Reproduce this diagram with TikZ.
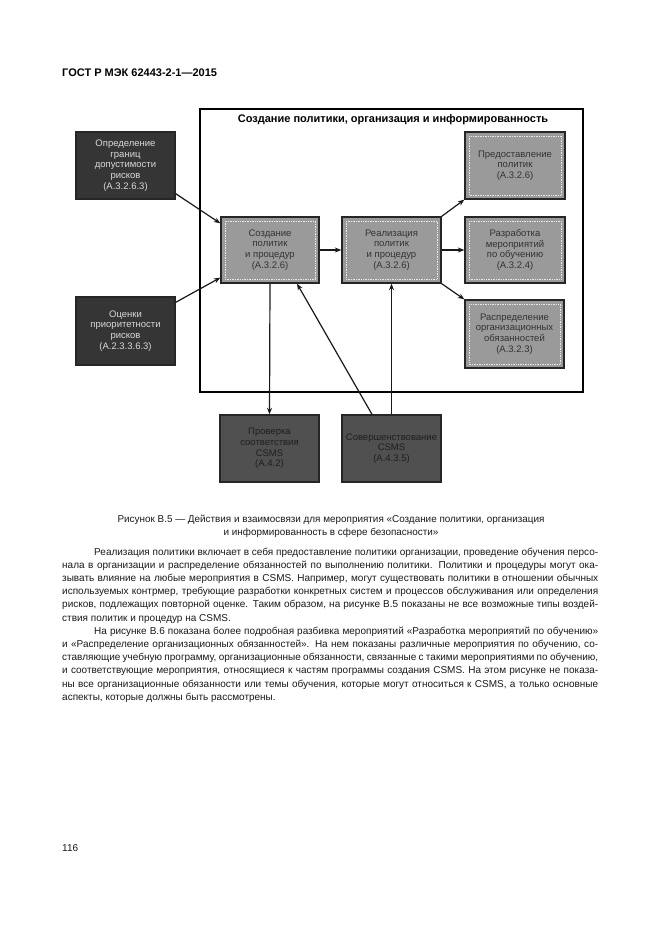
\documentclass[tikz,border=0pt]{standalone}
\usepackage{fontspec}
\setmainfont{Liberation Sans}
\usetikzlibrary{arrows.meta,calc}
\definecolor{darkbox}{HTML}{353535}
\definecolor{graybox}{HTML}{9A9A9A}
\definecolor{botbox}{HTML}{505050}
\definecolor{bodytext}{HTML}{1A1A1A}
\tikzset{
  boxbase/.style={draw=black!85, line width=1.3pt, minimum width=99pt, minimum height=67pt, align=center, inner sep=2pt, font=\fontsize{9.5}{10.7}\selectfont},
  darkstyle/.style={boxbase, fill=darkbox, text=white!85!black},
  graystyle/.style={boxbase, fill=graybox, text=black!80,
     path picture={\draw[white, line width=0.7pt, densely dotted, opacity=0.8]
       ([shift={(4pt,-4pt)}]path picture bounding box.north west) rectangle ([shift={(-4pt,4pt)}]path picture bounding box.south east);}},
  botstyle/.style={boxbase, fill=botbox, text=black!88},
  conn/.style={line width=1.2pt, black!90, -{Stealth[length=6.5pt,width=5pt]}},
  bodyline/.style={anchor=base west, inner sep=0pt, font=\fontsize{10}{12}\selectfont, text=bodytext},
  capline/.style={anchor=base, inner sep=0pt, font=\fontsize{9.9}{12}\selectfont, text=bodytext}
}
\begin{document}
\begin{tikzpicture}[x=1pt,y=-1pt]
\useasboundingbox (0,0) rectangle (661,935);
\fill[white] (0,0) rectangle (661,935);

% header
\node[anchor=base west, inner sep=0pt, font=\bfseries\fontsize{11}{13}\selectfont] (hdr) at (62,76) {ГОСТ Р МЭК 62443-2-1—2015};

% frame
\node[draw=black, line width=1.8pt, minimum width=383pt, minimum height=283pt, inner sep=0pt, anchor=north west] (frame) at (199,108) {};
\node[font=\bfseries\fontsize{11}{13}\selectfont, inner sep=0pt] (title) at (393,120) {Создание политики, организация и информированность};

% boxes
\node[darkstyle] (opr) at (125.5,165.5) {Определение\\границ\\допустимости\\рисков\\(A.3.2.6.3)};
\node[darkstyle, minimum height=68pt] (ocen) at (125.5,331) {Оценки\\приоритетности\\рисков\\(A.2.3.3.6.3)};
\node[graystyle, minimum width=98pt, minimum height=66pt] (sozd) at (270,250) {Создание\\политик\\и процедур\\(A.3.2.6)};
\node[graystyle, minimum height=66pt] (real) at (391.5,250) {Реализация\\политик\\и процедур\\(A.3.2.6)};
\node[graystyle, minimum width=100pt] (pred) at (515,165.5) {Предоставление\\политик\\(A.3.2.6)};
\node[graystyle, minimum width=100pt, minimum height=66pt] (razr) at (515,250) {Разработка\\мероприятий\\по обучению\\(A.3.2.4)};
\node[graystyle, minimum height=68pt] (rasp) at (514.5,334) {Распределение\\организационных\\обязанностей\\(A.3.2.3)};
\node[botstyle] (prov) at (269.5,448.5) {Проверка\\соответствия\\CSMS\\(A.4.2)};
\node[botstyle] (sover) at (391.5,448.5) {Совершенствование\\CSMS\\(A.4.3.5)};

% connectors
\draw[conn] ([yshift=6pt]opr.south east) -- ([yshift=-7pt]sozd.north west);
\draw[conn] ([yshift=-6pt]ocen.north east) -- ([yshift=6pt]sozd.south west);
\draw[conn] (sozd.east) -- (real.west);
\draw[conn] (real.east) -- (razr.west);
\draw[conn] (real.north east) -- (pred.south west);
\draw[conn] (real.south east) -- (rasp.north west);
\draw[conn] (sozd.south) -- (prov.north);
\draw[conn] ([xshift=-19.5pt]sover.north) -- ([xshift=27pt]sozd.south);
\draw[conn] (sover.north) -- (real.south);

% caption
\node[capline] (cap1) at (331,522) {Рисунок В.5 — Действия и взаимосвязи для мероприятия «Создание политики, организация};
\node[capline] (cap2) at (331,535) {и информированность в сфере безопасности»};

% body text
\node[bodyline] (l1) at (94,555) {\makebox[504pt][s]{Реализация политики включает в себя предоставление политики организации, проведение обучения персо-}};
\node[bodyline] (l2) at (62,568.2) {\makebox[536pt][s]{нала в организации и распределение обязанностей по выполнению политики. Политики и процедуры могут ока-}};
\node[bodyline] (l3) at (62,581.4) {\makebox[536pt][s]{зывать влияние на любые мероприятия в CSMS. Например, могут существовать политики в отношении обычных}};
\node[bodyline] (l4) at (62,594.6) {\makebox[536pt][s]{используемых контрмер, требующие разработки конкретных систем и процессов обслуживания или определения}};
\node[bodyline] (l5) at (62,607.8) {\makebox[536pt][s]{рисков, подлежащих повторной оценке. Таким образом, на рисунке В.5 показаны не все возможные типы воздей-}};
\node[bodyline] (l6) at (62,621) {ствия политик и процедур на CSMS.};
\node[bodyline] (l7) at (94,634.2) {\makebox[504pt][s]{На рисунке В.6 показана более подробная разбивка мероприятий «Разработка мероприятий по обучению»}};
\node[bodyline] (l8) at (62,647.4) {\makebox[536pt][s]{и «Распределение организационных обязанностей». На нем показаны различные мероприятия по обучению, со-}};
\node[bodyline] (l9) at (62,660.6) {\makebox[536pt][s]{ставляющие учебную программу, организационные обязанности, связанные с такими мероприятиями по обучению,}};
\node[bodyline] (l10) at (62,673.8) {\makebox[536pt][s]{и соответствующие мероприятия, относящиеся к частям программы создания CSMS. На этом рисунке не показа-}};
\node[bodyline] (l11) at (62,687) {\makebox[536pt][s]{ны все организационные обязанности или темы обучения, которые могут относиться к CSMS, а только основные}};
\node[bodyline] (l12) at (62,700.2) {аспекты, которые должны быть рассмотрены.};

% page number
\node[bodyline] (pg) at (62,851) {116};
\end{tikzpicture}
\end{document}
